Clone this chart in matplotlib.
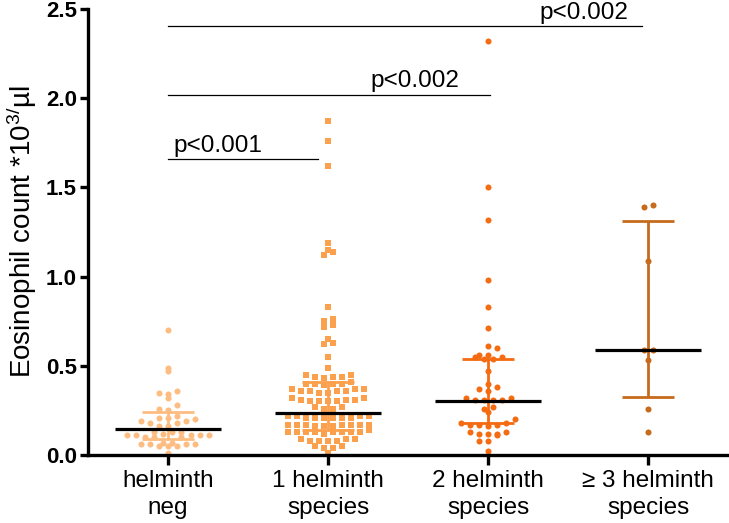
import numpy as np
import matplotlib
matplotlib.use('Agg')
from matplotlib import pyplot as plt

plt.rcParams['font.family'] = ['Liberation Sans', 'DejaVu Sans']
plt.rcParams['mathtext.default'] = 'regular'

groups = ['helminth\nneg', '1 helminth\nspecies', '2 helminth\nspecies', '\u2265 3 helminth\nspecies']
colors = ['#FDBD82', '#FBA04C', '#F46B12', '#C66A1C']
markers = ['o', 's', 'o', 'o']

# eosinophil counts (*10^3/µl)
neg = [0.70, 0.49, 0.47, 0.36, 0.35, 0.34, 0.32, 0.28, 0.26, 0.25, 0.22, 0.21,
       0.21, 0.20, 0.19, 0.19, 0.18, 0.18, 0.16, 0.16, 0.13, 0.13, 0.13, 0.12,
       0.11, 0.11, 0.11, 0.11, 0.11, 0.10, 0.10, 0.10, 0.07, 0.06, 0.06, 0.06,
       0.05, 0.05, 0.05, 0.06, 0.07, 0.01]
one_sp = [1.87, 1.76, 1.62, 1.19, 1.15, 1.14, 1.12, 0.83, 0.76, 0.75, 0.73, 0.72,
          0.65, 0.63, 0.62, 0.55, 0.49,
          0.45, 0.44, 0.44, 0.43, 0.44, 0.45,
          0.41, 0.40, 0.40, 0.40, 0.39, 0.40,
          0.37, 0.36, 0.36, 0.35, 0.36, 0.37, 0.36, 0.35, 0.37,
          0.32, 0.31, 0.30, 0.30, 0.31, 0.30, 0.31, 0.30, 0.32,
          0.27, 0.26, 0.27, 0.26,
          0.22, 0.21, 0.21, 0.22, 0.21, 0.22, 0.21, 0.21, 0.22, 0.21,
          0.17, 0.16, 0.17, 0.17, 0.16, 0.17, 0.17, 0.16, 0.17, 0.17,
          0.13, 0.13, 0.13, 0.14, 0.13, 0.13, 0.13, 0.13, 0.12, 0.13,
          0.09, 0.08, 0.08, 0.09, 0.08, 0.08, 0.09,
          0.05, 0.04, 0.05, 0.04, 0.01]
two_sp = [2.32, 1.50, 1.32, 0.98, 0.83, 0.71, 0.61, 0.60, 0.56, 0.55, 0.56, 0.54,
          0.54, 0.55, 0.47, 0.40, 0.38, 0.37, 0.36, 0.32, 0.31, 0.31, 0.31, 0.31,
          0.32, 0.26, 0.27, 0.24, 0.20, 0.18, 0.17, 0.17, 0.16, 0.17, 0.18, 0.13,
          0.12, 0.11, 0.12, 0.12, 0.13, 0.08, 0.08, 0.02]
three_sp = [1.40, 1.39, 1.09, 0.59, 0.59, 0.53, 0.26, 0.13]
data = [neg, one_sp, two_sp, three_sp]

medians = [0.146, 0.237, 0.300, 0.587]
q1 = [0.090, 0.140, 0.178, 0.325]
q3 = [0.239, 0.411, 0.538, 1.313]

# comparisons: (start group, end, y, text x, label)
brackets = [(0, 0.94, 1.657, 0.31, 'p<0.001'),
            (0, 2.01, 2.02, 1.54, 'p<0.002'),
            (0, 2.96, 2.405, 2.60, 'p<0.002')]


def rows_layout(vals, bin_h, step):
    # Prism-like scatter: points binned in y, each bin laid out side by side,
    # lowest values in the middle so rows bend a little
    vals = np.asarray(vals)
    offs = np.zeros(len(vals))
    bins = np.round(vals / bin_h).astype(int)
    for b in np.unique(bins):
        idx = np.where(bins == b)[0]
        idx = idx[np.argsort(vals[idx])]
        n = len(idx)
        slots = (np.arange(n) - (n - 1) / 2.0) * step
        slots = slots[np.argsort(np.abs(slots), kind='stable')]
        offs[idx] = slots
    return offs


fig = plt.figure(figsize=(7.29, 5.23), dpi=100)
ax = fig.add_axes([0.1207, 0.13, 0.878, 0.8528])
ax.set_xlim(-0.5, 3.5)
ax.set_ylim(0, 2.5)

px_x = 160.0  # px per x unit
for i, vals in enumerate(data):
    off = rows_layout(vals, 0.0448, 9.0 / px_x)
    ax.scatter(i + off, vals, s=19 if markers[i] == 'o' else 18, marker=markers[i],
               color=colors[i], linewidths=0, zorder=2, clip_on=False)
    ax.vlines(i, q1[i], q3[i], color=colors[i], lw=2.0, zorder=3)
    ax.hlines([q1[i], q3[i]], i - 0.16, i + 0.16, color=colors[i], lw=2.0, zorder=3)
    ax.hlines(medians[i], i - 0.33, i + 0.33, color='black', lw=2.3, zorder=4)

for x0, x1, y, tx, lab in brackets:
    ax.plot([x0, x1], [y, y], color='black', lw=0.9, clip_on=False)
    ax.text(tx, y + 0.04, lab, ha='center', va='baseline', fontsize=17.5, clip_on=False)

ax.spines['top'].set_visible(False)
ax.spines['right'].set_visible(False)
ax.spines['left'].set_linewidth(2.4)
ax.spines['bottom'].set_linewidth(2.4)
ax.set_yticks([0, 0.5, 1.0, 1.5, 2.0, 2.5])
ax.set_yticklabels(['0.0', '0.5', '1.0', '1.5', '2.0', '2.5'], fontweight='bold', fontsize=16)
ax.set_xticks(range(4))
ax.set_xticklabels(groups, fontsize=17.5, linespacing=1.28)
ax.tick_params(axis='y', length=6, width=2.4, pad=2)
ax.tick_params(axis='x', length=7, width=2.4, pad=4)
ax.set_ylabel('Eosinophil count *10$^{3/}$\u00b5l', fontsize=20)
ax.yaxis.set_label_coords(-0.077, 0.5)

plt.savefig('out.png', dpi=100)
